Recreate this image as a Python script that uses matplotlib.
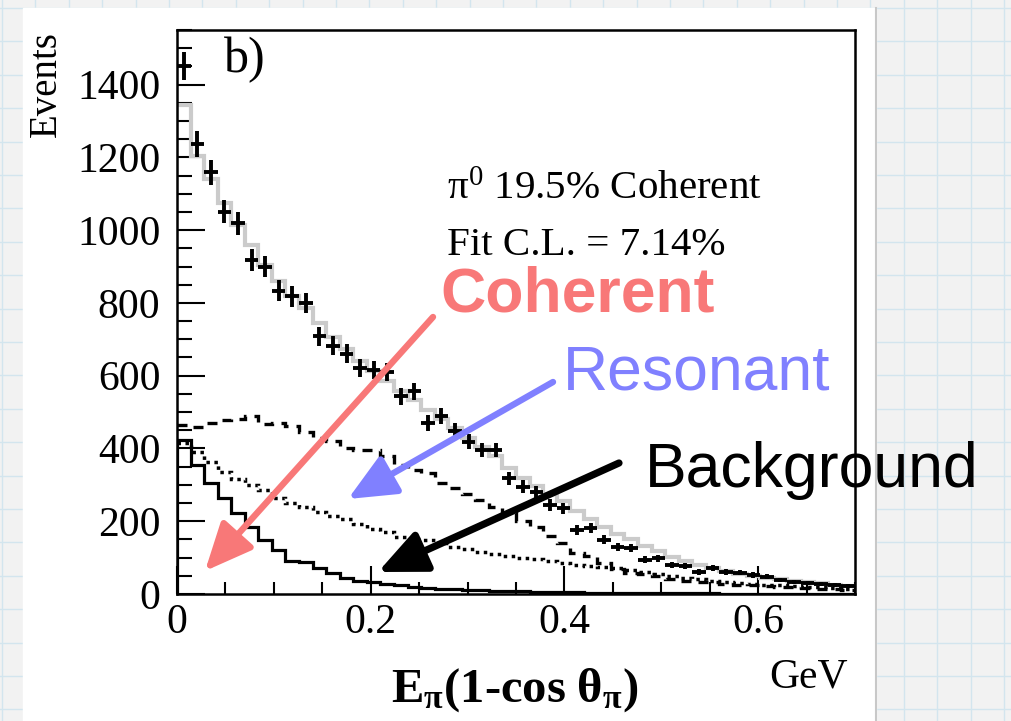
import numpy as np
import matplotlib
matplotlib.use("Agg")
import matplotlib.pyplot as plt
from matplotlib.patches import Rectangle
from matplotlib.ticker import MultipleLocator

plt.rcParams['mathtext.fontset'] = 'custom'
plt.rcParams['mathtext.rm'] = 'Liberation Serif'
plt.rcParams['mathtext.it'] = 'Liberation Serif:italic'
plt.rcParams['mathtext.bf'] = 'Liberation Serif:bold'

SERIF = 'Liberation Serif'
SANS = 'Liberation Sans'

# 50 bins of E_pi(1-cos theta_pi) between 0 and 0.7 GeV
x_range = (0.0, 0.7)
n_bins = 50

data_events = [1452, 1237, 1159, 1051, 1019, 918, 900, 834, 818, 800,
               708, 682, 660, 621, 615, 611, 543, 557, 469, 488,
               449, 419, 396, 396, 318, 295, 281, 245, 236, 176,
               181, 149, 130, 126, 94, 98, 80, 77, 61, 71,
               60, 59, 52, 48, 38, 33, 30, 27, 25, 22]

total_fit = [1345, 1205, 1140, 1075, 1015, 960, 905, 860, 820, 785,
             745, 705, 672, 640, 612, 585, 558, 532, 505, 480,
             455, 428, 404, 378, 345, 320, 298, 275, 255, 228,
             205, 185, 166, 150, 132, 117, 103, 91, 80, 71,
             63, 56, 50, 45, 40, 36, 32, 29, 26, 23]

coherent_mc = [424, 355, 304, 263, 222, 185, 149, 121, 90, 88,
               71, 57, 45, 37, 32, 27, 24, 20, 17, 15,
               13, 11, 10, 9, 8, 7, 6, 6, 5, 5,
               4, 4, 3, 3, 3, 2, 2, 2, 2, 2,
               1, 1, 1, 1, 1, 1, 1, 1, 1, 1]

resonant_mc = [465, 460, 470, 477, 482, 488, 466, 470, 462, 446,
               430, 420, 400, 396, 396, 378, 355, 340, 333, 305,
               290, 275, 258, 240, 222, 201, 185, 160, 140, 112,
               105, 85, 68, 58, 54, 50, 40, 35, 34, 32,
               28, 26, 24, 22, 20, 18, 16, 15, 13, 12]

background_mc = [415, 391, 364, 336, 315, 300, 286, 263, 250, 240,
                 226, 215, 205, 192, 180, 170, 158, 152, 149, 140,
                 130, 124, 116, 110, 105, 100, 95, 90, 85, 80,
                 77, 74, 71, 67, 60, 55, 50, 45, 41, 37,
                 34, 31, 28, 26, 24, 22, 20, 18, 16, 14]

W, H = 1011, 721
fig = plt.figure(figsize=(W / 100, H / 100), dpi=100)

# page background: squared paper with a white sheet on it
bg = fig.add_axes([0, 0, 1, 1], zorder=0)
bg.set_xlim(0, W)
bg.set_ylim(H, 0)
bg.axis('off')
bg.add_patch(Rectangle((0, 0), W, H, color='#f2f2f2', zorder=0))
for gx in np.arange(2, W, 33.4):
    bg.axvline(gx, color='#d3e5ee', lw=1.0, zorder=1)
for gy in np.arange(8, H, 33.4):
    bg.axhline(gy, color='#d3e5ee', lw=1.0, zorder=1)
bg.add_patch(Rectangle((23, 8), 853, H - 8, color='white', zorder=2))
bg.plot([876, 876], [8, H], color='#c8c8c8', lw=1.5, zorder=3)

# histogram panel
ax = fig.add_axes([177 / W, 127 / H, 678 / W, 564 / H], zorder=2)
edges = np.linspace(x_range[0], x_range[1], n_bins + 1)
centers = 0.5 * (edges[:-1] + edges[1:])
half_width = 0.5 * (edges[1] - edges[0])
data = np.array(data_events, dtype=float)

ax.stairs(total_fit, edges, color='#cbcbcb', lw=3.0, baseline=None, zorder=2)
ax.stairs(coherent_mc, edges, color='black', lw=2.3, zorder=3)
ax.stairs(resonant_mc, edges, color='black', lw=2.4, baseline=None,
          linestyle=(0, (3.0, 2.4)), zorder=3)
ax.stairs(background_mc, edges, color='black', lw=2.5, baseline=None,
          linestyle=(0, (1.0, 1.3)), zorder=3)
ax.errorbar(centers, data, xerr=half_width, yerr=np.sqrt(data), fmt='none',
            ecolor='black', elinewidth=2.8, capsize=0, zorder=4)

ax.set_xlim(*x_range)
ax.set_ylim(0, 1550)
ax.xaxis.set_major_locator(MultipleLocator(0.2))
ax.xaxis.set_minor_locator(MultipleLocator(0.05))
ax.yaxis.set_major_locator(MultipleLocator(200))
ax.yaxis.set_minor_locator(MultipleLocator(50))
ax.set_xticks([0, 0.2, 0.4, 0.6])
ax.set_xticklabels(['0', '0.2', '0.4', '0.6'])
ax.tick_params(which='both', direction='in', top=False, right=False,
               width=1.5, color='black')
ax.tick_params(axis='y', which='major', length=20, pad=12)
ax.tick_params(axis='y', which='minor', length=11)
ax.tick_params(axis='x', which='major', length=20, pad=7)
ax.tick_params(axis='x', which='minor', length=9)
for lab in ax.get_xticklabels() + ax.get_yticklabels():
    lab.set_fontfamily(SERIF)
    lab.set_fontsize(30)
for sp in ax.spines.values():
    sp.set_linewidth(1.8)
    sp.set_color('black')

# text and arrows in page pixel coordinates
ov = fig.add_axes([0, 0, 1, 1], zorder=5)
ov.set_xlim(0, W)
ov.set_ylim(H, 0)
ov.axis('off')
ov.patch.set_alpha(0)

ov.text(46, 31, 'Events', family=SERIF, fontsize=28, rotation=90,
        ha='center', va='top')
ov.text(224, 72, 'b)', family=SERIF, fontsize=36, ha='left', va='baseline')
ov.text(447, 199, r'$\mathrm{\pi}^{0}$ 19.5% Coherent', family=SERIF,
        fontsize=29.5, ha='left', va='baseline')
ov.text(447, 255, 'Fit C.L. = 7.14%', family=SERIF, fontsize=29.5,
        ha='left', va='baseline')
ov.text(515, 702, r'$\mathbf{E_{\pi}(1‐cos\ \theta_{\pi})}$', fontsize=35,
        ha='center', va='baseline')
ov.text(769, 688, 'GeV', family=SERIF, fontsize=30, ha='left', va='baseline')

ov.text(440, 311, 'Coherent', family=SANS, fontweight='bold', fontsize=45,
        color='#f87878', ha='left', va='baseline')
ov.text(563, 389, 'Resonant', family=SANS, fontsize=45, color='#8080ff',
        ha='left', va='baseline')
ov.text(645, 487, 'Background', family=SANS, fontsize=45, color='black',
        ha='left', va='baseline')

arrows = [((433, 317), (205, 571), '#f87878', 4.6),
          ((553, 382), (348, 499), '#8080ff', 4.6),
          ((619, 463), (378, 572), 'black', 5.2)]
for start, tip, col, width in arrows:
    ov.annotate('', xy=tip, xytext=start,
                arrowprops=dict(arrowstyle='-|>,head_length=1.45,head_width=0.65',
                                color=col, lw=width, mutation_scale=20,
                                shrinkA=0, shrinkB=0))

fig.savefig('out.png', dpi=100)
